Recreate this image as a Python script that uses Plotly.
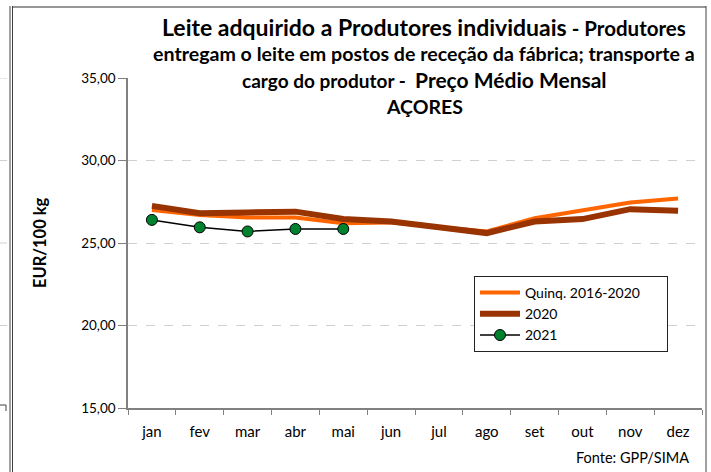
import plotly.graph_objects as go

months = ["jan", "fev", "mar", "abr", "mai", "jun", "jul", "ago", "set", "out", "nov", "dez"]
quinq = [27.0, 26.7, 26.55, 26.55, 26.2, 26.25, 25.95, 25.7, 26.5, 26.95, 27.45, 27.7]
y2020 = [27.25, 26.8, 26.85, 26.9, 26.45, 26.3, 25.95, 25.6, 26.3, 26.45, 27.05, 26.95]
y2021 = [26.4, 25.95, 25.7, 25.85, 25.85]
yticks = [15, 20, 25, 30, 35]
series_names = ["Quinq. 2016-2020", "2020", "2021"]

FONT = "Lato"
W, H = 711, 472
L, R, T, B = 128, 9, 78, 64

fig = go.Figure()
fig.add_trace(go.Scatter(x=months, y=quinq, mode="lines", name=series_names[0] + "\u00a0" * 6,
                         line=dict(color="#FF6600", width=4)))
fig.add_trace(go.Scatter(x=months, y=y2020, mode="lines", name=series_names[1],
                         line=dict(color="#993300", width=6)))
fig.add_trace(go.Scatter(x=months[:len(y2021)], y=y2021, mode="lines+markers", name=series_names[2],
                         line=dict(color="black", width=1.5),
                         marker=dict(color="#00822F", size=11, line=dict(color="black", width=1))))

def px(xp):
    return (xp - L) / (W - L - R)

def py(yp):
    return (H - B - yp) / (H - T - B)

shapes = []
# outer frame
for xp in (10, 12.5):
    shapes.append(dict(type="line", xref="paper", yref="paper", x0=px(xp), x1=px(xp), y0=py(6), y1=py(472),
                       line=dict(color="#404040", width=1)))
shapes.append(dict(type="line", xref="paper", yref="paper", x0=px(12), x1=px(706), y0=py(7), y1=py(7),
                   line=dict(color="#303030", width=1.2)))
shapes.append(dict(type="line", xref="paper", yref="paper", x0=px(706), x1=px(706), y0=py(6), y1=py(472),
                   line=dict(color="#404040", width=1)))
# fragments of neighbouring chart at far left
for yv in (20, 25, 30, 35):
    shapes.append(dict(type="line", xref="paper", yref="y", x0=px(0), x1=px(7), y0=yv, y1=yv,
                       line=dict(color="#d0d0d0", width=1, dash="dash")))
shapes.append(dict(type="line", xref="paper", yref="paper", x0=px(0), x1=px(6), y0=py(405), y1=py(405),
                   line=dict(color="#404040", width=1)))
shapes.append(dict(type="line", xref="paper", yref="paper", x0=px(6), x1=px(6), y0=py(405), y1=py(411),
                   line=dict(color="#404040", width=1)))

tx = px(424)
annotations = [
    dict(text="<b>Leite adquirido a Produtores individuais</b><b><span style='font-size:20.5px'> - Produtores</span></b>",
         x=tx, y=py(27), font=dict(size=23)),
    dict(text="<b>entregam o leite em postos de receção da fábrica; transporte a</b>",
         x=tx, y=py(53), font=dict(size=19.6)),
    dict(text="<b><span style='font-size:19px'>cargo do produtor -  </span>Preço Médio Mensal</b>",
         x=tx, y=py(79), font=dict(size=21)),
    dict(text="<b>AÇORES</b>", x=tx, y=py(106), font=dict(size=19.5)),
    dict(text="Fonte: GPP/SIMA", x=px(632), y=py(457), font=dict(size=14.5)),
    dict(text="<b>EUR/100 kg</b>", x=px(40), y=0.5, textangle=-90, font=dict(size=16.5)),
]
for a in annotations:
    a.update(xref="paper", yref="paper", showarrow=False, xanchor="center", yanchor="middle")
    a["font"].update(family=FONT, color="black")

fig.update_layout(
    width=W, height=H,
    margin=dict(l=L, r=R, t=T, b=B),
    paper_bgcolor="white", plot_bgcolor="white",
    separators=",.",
    font=dict(family=FONT, size=14, color="black"),
    showlegend=True,
    legend=dict(x=px(474), y=py(276), xanchor="left", yanchor="top",
                bordercolor="#222222", borderwidth=1, bgcolor="white",
                font=dict(family=FONT, size=14), itemwidth=40, tracegroupgap=0),
    shapes=shapes,
    annotations=annotations,
    xaxis=dict(type="category", range=[-0.5, 11.5], showgrid=False, showline=True,
               linecolor="#808080", linewidth=1.5, ticks="outside", ticklen=5, tickcolor="#808080",
               tickson="boundaries", tickfont=dict(family=FONT, size=15), zeroline=False,
               ticklabelstandoff=9),
    yaxis=dict(range=[15, 35], tickvals=yticks, tickformat=".2f", showgrid=True,
               gridcolor="#d0d0d0", griddash="dash", gridwidth=1, showline=True,
               linecolor="#808080", linewidth=1.5, ticks="outside", ticklen=8, tickcolor="#808080",
               tickfont=dict(family=FONT, size=13.5), zeroline=False),
)

fig.write_html("out.html", config={"displayModeBar": False},
               post_script="document.body.style.margin='0px';")
